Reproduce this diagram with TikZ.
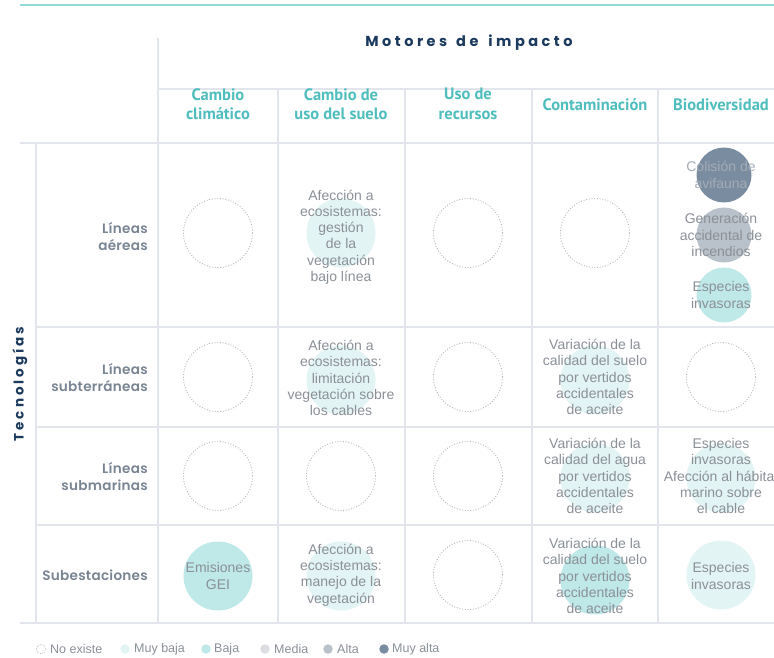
\documentclass[tikz,border=0pt]{standalone}
\usepackage{fontspec}
\setmainfont{Liberation Sans}
\newfontfamily\hdrfont{PT Sans}
\newfontfamily\poprow[LetterSpace=2]{Poppins SemiBold}
\newfontfamily\poptitle[LetterSpace=24]{Poppins Bold}
\newfontfamily\poptec[LetterSpace=22]{Poppins Bold}
\definecolor{gridc}{HTML}{E3E5EC}
\definecolor{topline}{HTML}{8FD9D9}
\definecolor{txtc}{HTML}{8B9097}
\definecolor{lighttxt}{HTML}{A3ACB6}
\definecolor{tealhdr}{HTML}{4FBDBD}
\definecolor{rowc}{HTML}{7A8593}
\definecolor{navy}{HTML}{1B3A5E}
\definecolor{dotc}{HTML}{B2B6BD}
\definecolor{muybaja}{HTML}{E3F4F4}
\definecolor{baja}{HTML}{BFE8E8}
\definecolor{media}{HTML}{DCDEE1}
\definecolor{alta}{HTML}{B9C1CA}
\definecolor{muyalta}{HTML}{7A8CA0}
\begin{document}
\begin{tikzpicture}[x=1pt,y=-1pt,
  gridl/.style={draw=gridc, line width=1.2pt},
  celltxt/.style={align=center, text=txtc, font=\fontsize{14}{16.2}\selectfont, inner sep=0pt},
  colhdr/.style={align=center, text=tealhdr, font=\hdrfont\bfseries\fontsize{16.5}{19.5}\selectfont, inner sep=0pt},
  rowlbl/.style={align=right, anchor=east, text=rowc, font=\poprow\fontsize{13.6}{17}\selectfont, inner sep=0pt},
  titlelbl/.style={text=navy, font=\poptitle\fontsize{14.5}{16}\selectfont, inner sep=0pt},
  teclbl/.style={text=navy, font=\poptec\fontsize{13.5}{16}\selectfont, inner sep=0pt},
  nox/.style={circle, draw=dotc, line width=0.9pt, dash pattern=on 0.9pt off 1.8pt, minimum size=69pt, inner sep=0pt},
  lvl/.style={circle, fill=#1, minimum size=69pt, inner sep=0pt},
  slvl/.style={circle, fill=#1, minimum size=55pt, inner sep=0pt},
  leglvl/.style={circle, fill=#1, minimum size=9.5pt, inner sep=0pt},
  legnox/.style={circle, draw=dotc, line width=0.7pt, dash pattern=on 0.7pt off 1.2pt, minimum size=9.5pt, inner sep=0pt},
  legtxt/.style={anchor=west, text=txtc, font=\fontsize{12.5}{14}\selectfont, inner sep=0pt}
]
\useasboundingbox (0,0) rectangle (774,657);
\fill[white] (0,0) rectangle (774,657);

% top teal line
\draw[topline, line width=1.6pt] (20,5) -- (774,5);

% grid
\draw[gridl] (158,38) -- (158,623);
\draw[gridl] (158,89) -- (774,89);
\draw[gridl] (20,143) -- (774,143);
\draw[gridl] (20,623) -- (774,623);
\draw[gridl] (36,143) -- (36,623);
\foreach \yy in {327,427,525} \draw[gridl] (36,\yy) -- (774,\yy);
\foreach \xx in {278,405,532,658} \draw[gridl] (\xx,89) -- (\xx,623);

% titles
\node[titlelbl] (motores) at (469,43) {Motores\hspace{9pt}de\hspace{10pt}impacto};
\node[teclbl, rotate=90] (tecno) at (20,384) {Tecnologías};

% column headers
\node[colhdr] (h1) at (218,104) {Cambio\\climático};
\node[colhdr] (h2) at (341,104) {Cambio de\\uso del suelo};
\node[colhdr] (h3) at (468,104) {Uso de\\recursos};
\node[colhdr] (h4) at (595,105) {Contaminación};
\node[colhdr] (h5) at (721,105) {Biodiversidad};

% row labels
\node[rowlbl] (r1) at (148,237) {Líneas\\aéreas};
\node[rowlbl] (r2) at (148,378) {Líneas\\subterráneas};
\node[rowlbl] (r3) at (148,477) {Líneas\\submarinas};
\node[rowlbl] (r4) at (148,575) {Subestaciones};

% row 1
\node[nox] (c11) at (218,233) {};
\node[lvl=muybaja] (c12) at (341,233) {};
\node[celltxt] (t12) at (341,237) {Afección a\\ecosistemas:\\gestión\\de la\\vegetación\\bajo línea};
\node[nox] (c13) at (468,233) {};
\node[nox] (c14) at (595,233) {};
\node[slvl=muyalta] (c15a) at (724,175) {};
\node[slvl=alta] (c15b) at (724,235) {};
\node[slvl=baja] (c15c) at (724,295) {};
\node[celltxt, text=lighttxt] (t15a) at (721,175) {Colisión de\\avifauna};
\node[celltxt] (t15b) at (721,235) {Generación\\accidental de\\incendios};
\node[celltxt] (t15c) at (721,295) {Especies\\invasoras};

% row 2
\node[nox] (c21) at (218,377) {};
\node[lvl=muybaja] (c22) at (341,380) {};
\node[celltxt] (t22) at (341,378) {Afección a\\ecosistemas:\\limitación\\vegetación sobre\\los cables};
\node[nox] (c23) at (468,377) {};
\node[lvl=muybaja] (c24) at (595,380) {};
\node[celltxt] (t24) at (595,377) {Variación de la\\calidad del suelo\\por vertidos\\accidentales\\de aceite};
\node[nox] (c25) at (721,377) {};

% row 3
\node[nox] (c31) at (218,476) {};
\node[nox] (c32) at (341,476) {};
\node[nox] (c33) at (468,476) {};
\node[lvl=muybaja] (c34) at (595,478) {};
\node[celltxt] (t34) at (595,476) {Variación de la\\calidad del agua\\por vertidos\\accidentales\\de aceite};
\node[lvl=muybaja] (c35) at (721,478) {};
\node[celltxt] (t35) at (721,476) {Especies\\invasoras\\Afección al hábitat\\marino sobre\\el cable};

% row 4
\node[lvl=baja] (c41) at (218,576) {};
\node[celltxt] (t41) at (218,576) {Emisiones\\GEI};
\node[lvl=muybaja] (c42) at (341,576) {};
\node[celltxt] (t42) at (341,575) {Afección a\\ecosistemas:\\manejo de la\\vegetación};
\node[nox] (c43) at (468,575) {};
\node[lvl=baja] (c44) at (595,580) {};
\node[celltxt] (t44) at (595,576) {Variación de la\\calidad del suelo\\por vertidos\\accidentales\\de aceite};
\node[lvl=muybaja] (c45) at (721,575) {};
\node[celltxt] (t45) at (721,576) {Especies\\invasoras};

% legend
\node[legnox] (l1) at (41,649) {};
\node[legtxt] (lt1) at (50,649) {No existe};
\node[leglvl=muybaja] (l2) at (125,649) {};
\node[legtxt] (lt2) at (134,649) {Muy baja};
\node[leglvl=baja] (l3) at (206,649) {};
\node[legtxt] (lt3) at (214,649) {Baja};
\node[leglvl=media] (l4) at (265,649) {};
\node[legtxt] (lt4) at (274,649) {Media};
\node[leglvl=alta] (l5) at (328,649) {};
\node[legtxt] (lt5) at (337,649) {Alta};
\node[leglvl=muyalta] (l6) at (384,649) {};
\node[legtxt] (lt6) at (392,649) {Muy alta};
\end{tikzpicture}
\end{document}
